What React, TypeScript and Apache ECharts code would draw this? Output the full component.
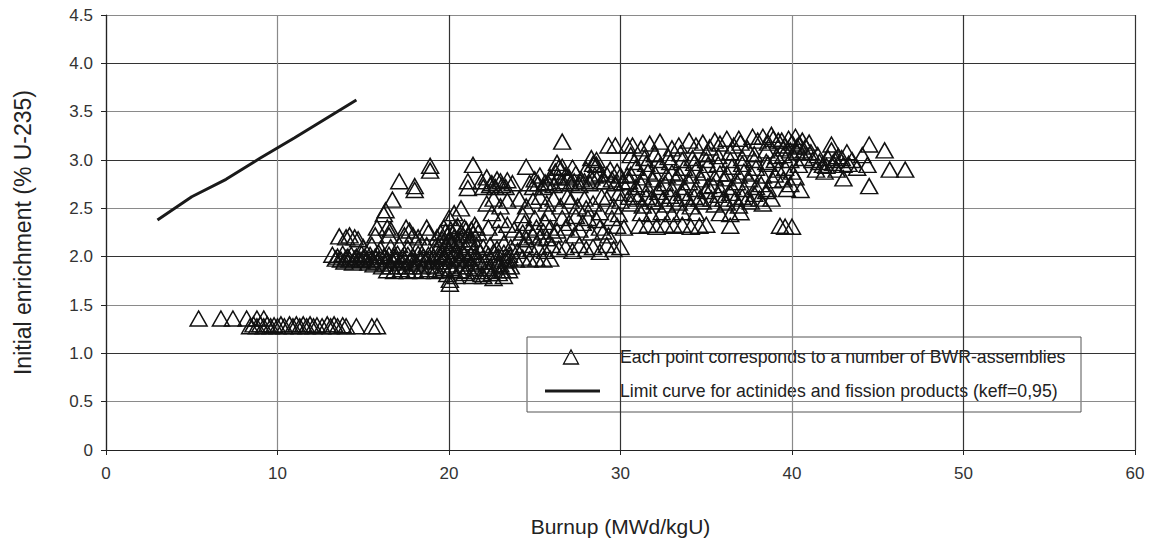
import React, { useEffect, useRef } from "react";
import * as echarts from "echarts";

const FONT = "'Liberation Sans', Arial, Helvetica, sans-serif";

const SCATTER_NAME = "Each point corresponds to a number of BWR-assemblies";
const LINE_NAME = "Limit curve for actinides and fission products (keff=0,95)";

// Limit curve (burnup MWd/kgU, enrichment %)
const limitBurnup = [3, 5, 7, 9, 11, 14.6];
const limitEnrichment = [2.38, 2.62, 2.8, 3.02, 3.23, 3.62];

// BWR assemblies, grouped by region [burnup, enrichment]
const lowRow: number[][] = [
  [5.4, 1.36], [6.7, 1.36], [7.4, 1.36], [8.2, 1.36], [8.8, 1.36], [9.2, 1.36],
  [8.4, 1.28], [8.6, 1.3], [8.8, 1.28], [9.0, 1.3], [9.2, 1.28], [9.4, 1.3], [9.6, 1.28],
  [9.8, 1.29], [10.0, 1.28], [10.2, 1.3], [10.4, 1.28], [10.7, 1.3], [10.9, 1.28],
  [11.1, 1.3], [11.3, 1.28], [11.5, 1.3], [11.7, 1.28], [11.9, 1.3], [12.1, 1.28],
  [12.3, 1.29], [12.6, 1.28], [12.9, 1.3], [13.1, 1.28], [13.3, 1.3], [13.5, 1.28],
  [13.8, 1.29], [14.0, 1.28], [14.6, 1.28], [15.5, 1.28], [15.8, 1.28],
];

const clusterB: number[][] = [
  [13.6, 2.21], [14.0, 2.2], [14.2, 2.22], [14.5, 2.2], [14.7, 2.18],
  [13.2, 2.02], [13.5, 2.0], [13.8, 2.03], [14.1, 2.0], [14.3, 2.02], [14.6, 2.0],
  [14.9, 2.03], [15.1, 2.0], [15.4, 2.02], [15.7, 2.0], [15.9, 2.04], [16.2, 2.0],
  [16.5, 2.02], [16.8, 2.0], [17.0, 2.03], [17.3, 2.0], [17.6, 2.02], [17.9, 2.0],
  [18.2, 2.03], [18.5, 2.0], [18.8, 2.02], [19.1, 2.0], [19.4, 2.03], [19.7, 2.0],
  [13.9, 1.95], [14.4, 1.94], [14.9, 1.96], [15.3, 1.94], [15.8, 1.95], [16.3, 1.93],
  [16.7, 1.96], [17.2, 1.94], [17.7, 1.95], [18.1, 1.93], [18.6, 1.95],
  [16.4, 1.86], [16.8, 1.85], [17.2, 1.87], [17.6, 1.85], [18.0, 1.86], [18.4, 1.85],
  [18.8, 1.87], [19.2, 1.85], [19.5, 1.86],
  [15.0, 2.1], [15.5, 2.12], [16.0, 2.08], [16.6, 2.1], [17.1, 2.12], [17.6, 2.09],
  [18.2, 2.1], [18.7, 2.12], [19.2, 2.1],
  [15.7, 2.22], [15.8, 2.3], [16.4, 2.3], [16.5, 2.22], [16.6, 2.28], [17.4, 2.22],
  [17.5, 2.3], [17.7, 2.27], [17.9, 2.22], [18.2, 2.2], [18.7, 2.3], [18.8, 2.25],
  [18.9, 2.94], [18.9, 2.89], [17.1, 2.78], [18.0, 2.73], [18.0, 2.69], [16.7, 2.59],
  [16.3, 2.48], [16.2, 2.44], [20.05, 1.72], [20.05, 1.76],
  [13.4, 1.98], [13.7, 1.97], [14.0, 1.99], [14.2, 1.97], [14.5, 1.98], [14.8, 1.97],
  [15.0, 1.99], [15.2, 1.97], [15.5, 1.98], [15.6, 1.92], [15.9, 1.97], [16.1, 1.9],
  [16.4, 1.98], [16.6, 1.9], [16.9, 1.97], [17.0, 1.9], [17.4, 1.97], [17.5, 1.9],
  [17.8, 1.98], [17.9, 1.9], [18.3, 1.97], [18.4, 1.9], [18.7, 1.98], [18.9, 1.91], [19.0, 1.96],
];

const clusterC: number[][] = [
  [19.3, 2.2], [19.5, 2.25], [19.7, 2.3], [19.9, 2.22], [20.1, 2.28], [20.3, 2.2],
  [20.5, 2.32], [20.7, 2.25], [20.9, 2.3], [21.1, 2.22], [21.3, 2.28], [21.5, 2.33], [21.7, 2.25],
  [19.4, 2.1], [19.6, 2.05], [19.8, 2.12], [20.0, 2.08], [20.2, 2.14], [20.4, 2.06],
  [20.6, 2.12], [20.8, 2.04], [21.0, 2.1], [21.2, 2.15], [21.4, 2.06], [21.6, 2.12], [21.8, 2.05],
  [19.2, 1.9], [19.5, 1.95], [19.7, 1.88], [20.0, 1.92], [20.3, 1.86], [20.5, 1.96],
  [20.8, 1.9], [21.0, 1.85], [21.3, 1.93], [21.5, 1.88], [21.8, 1.95],
  [19.9, 1.82], [20.4, 1.8], [20.9, 1.83], [21.4, 1.8], [21.9, 1.82],
  [20.0, 2.4], [20.7, 2.5], [21.1, 2.71], [21.1, 2.78], [21.4, 2.95], [20.3, 2.45],
  [19.6, 2.18], [19.8, 2.26], [20.0, 2.16], [20.2, 2.24], [20.4, 2.3], [20.6, 2.18],
  [20.8, 2.22], [21.0, 2.28], [21.2, 2.18], [21.4, 2.24], [21.6, 2.3],
  [19.5, 2.0], [19.7, 1.98], [19.9, 2.02], [20.1, 1.98], [20.3, 2.02], [20.5, 2.0],
  [20.7, 1.98], [20.9, 2.02], [21.1, 1.98], [21.3, 2.02], [21.5, 2.0], [21.7, 1.98],
  [20.1, 1.88], [20.6, 1.86], [21.1, 1.9], [21.6, 1.85],
];

const clusterD: number[][] = [
  [22.0, 1.8], [22.3, 1.85], [22.6, 1.78], [22.9, 1.83], [23.2, 1.8], [23.5, 1.86],
  [22.1, 1.95], [22.4, 1.9], [22.7, 1.98], [23.0, 1.92], [23.3, 1.96], [23.6, 1.9],
  [22.0, 2.1], [22.4, 2.12], [22.8, 2.08], [23.2, 2.14], [23.6, 2.1], [24.0, 2.06],
  [24.4, 2.12], [24.8, 2.08], [25.2, 2.1], [25.6, 2.06], [26.0, 2.12], [26.4, 2.08],
  [26.8, 2.1], [27.2, 2.06], [27.6, 2.12], [28.0, 2.08], [28.4, 2.1], [28.8, 2.05],
  [29.2, 2.12], [29.6, 2.08], [30.0, 2.1],
  [23.5, 1.98], [23.9, 1.97], [24.3, 1.99], [24.7, 1.97], [25.1, 1.98], [25.5, 1.97], [25.9, 1.98],
  [24.1, 2.2], [24.3, 2.25], [24.5, 2.18], [24.7, 2.28], [24.9, 2.22], [25.1, 2.3],
  [25.3, 2.2], [25.5, 2.26], [25.7, 2.19], [25.9, 2.3], [26.1, 2.23], [26.3, 2.27],
  [22.3, 2.3], [22.9, 2.25], [23.4, 2.33], [26.8, 2.3], [27.3, 2.22], [27.8, 2.35],
  [28.3, 2.25], [28.8, 2.3], [29.3, 2.22], [29.8, 2.32],
  [22.2, 2.55], [22.6, 2.6], [23.0, 2.52], [23.4, 2.58], [24.1, 2.6], [24.5, 2.52],
  [24.9, 2.58], [25.3, 2.62], [25.7, 2.55], [26.1, 2.6], [26.5, 2.52], [27.1, 2.58],
  [27.5, 2.52], [27.9, 2.6], [28.4, 2.55], [29.2, 2.6], [29.6, 2.52], [30.0, 2.58], [30.5, 2.62],
  [22.5, 2.45], [24.3, 2.43], [25.8, 2.45], [27.4, 2.42], [28.8, 2.46], [29.9, 2.44],
  [21.9, 2.78], [22.2, 2.82], [22.5, 2.76], [22.8, 2.8], [23.1, 2.74], [23.4, 2.79], [23.7, 2.76],
  [24.7, 2.76], [25.0, 2.8], [25.3, 2.84], [25.6, 2.77], [25.9, 2.82], [26.2, 2.88],
  [26.5, 2.78], [26.8, 2.84], [27.1, 2.76], [27.4, 2.86], [27.7, 2.8], [28.0, 2.9],
  [28.3, 2.82], [28.6, 2.95], [28.9, 2.78], [29.2, 2.85], [29.5, 2.8], [29.8, 2.88],
  [30.1, 2.77], [30.4, 2.84],
  [26.3, 2.97], [26.6, 2.93], [28.3, 3.02], [28.6, 3.0], [24.5, 2.93], [26.6, 3.19],
  [29.3, 3.15], [29.7, 3.15], [30.4, 3.15],
  [22.0, 2.72], [22.4, 2.74], [22.7, 2.72], [23.0, 2.78], [23.3, 2.72], [24.9, 2.72],
  [25.2, 2.76], [25.5, 2.72], [25.8, 2.76], [26.1, 2.74], [26.4, 2.82], [26.7, 2.76],
  [27.0, 2.82], [27.3, 2.78], [27.6, 2.74], [27.9, 2.78], [28.2, 2.76], [28.5, 2.84],
  [28.8, 2.86], [29.1, 2.78], [29.4, 2.9], [29.7, 2.76], [30.0, 2.84], [26.4, 2.92],
  [28.4, 2.96], [27.2, 2.92],
  [22.2, 1.88], [22.5, 1.83], [22.8, 1.92], [23.1, 1.86], [23.4, 1.9], [22.3, 2.02],
  [22.6, 2.05], [22.9, 2.0], [23.2, 2.04], [23.5, 2.02],
  [26.6, 2.4], [27.0, 2.35], [27.6, 2.28], [28.1, 2.4], [28.6, 2.38], [29.0, 2.26],
  [29.5, 2.4], [30.2, 2.3], [26.9, 2.62], [28.0, 2.5], [28.9, 2.62], [29.9, 2.66],
  [24.4, 2.35], [25.0, 2.4], [25.6, 2.36], [23.8, 2.28], [23.0, 2.38],
];

const clusterE: number[][] = [
  [30.7, 3.15], [31.2, 3.12], [31.7, 3.17], [32.3, 3.19], [34.0, 3.2], [34.4, 3.15],
  [34.8, 3.18], [35.2, 3.13], [35.8, 3.17], [36.2, 3.22], [36.6, 3.15], [37.0, 3.18],
  [37.4, 3.12], [38.0, 3.2], [38.3, 3.24], [38.6, 3.18], [38.9, 3.22], [39.2, 3.2],
  [30.6, 3.05], [31.4, 3.02], [32.0, 3.06], [32.8, 3.03], [33.5, 3.07], [34.2, 3.02],
  [35.0, 3.06], [35.7, 3.04], [36.4, 3.08], [37.1, 3.02], [37.8, 3.06], [38.5, 3.1], [39.1, 3.04],
  [30.9, 2.92], [31.6, 2.88], [32.3, 2.94], [33.0, 2.87], [33.7, 2.92], [34.4, 2.9],
  [35.1, 2.95], [35.8, 2.86], [36.5, 2.93], [37.2, 2.88], [37.9, 2.92], [38.6, 2.96], [39.2, 2.9],
  [30.5, 2.78], [31.2, 2.75], [31.9, 2.8], [32.6, 2.76], [33.3, 2.82], [34.0, 2.77],
  [34.7, 2.8], [35.4, 2.74], [36.1, 2.81], [36.8, 2.77], [37.5, 2.8], [38.2, 2.75], [38.9, 2.79],
  [30.8, 2.65], [31.5, 2.62], [32.2, 2.67], [32.9, 2.63], [33.6, 2.66], [34.3, 2.62],
  [35.0, 2.68], [35.7, 2.64], [36.4, 2.66], [37.1, 2.62], [37.8, 2.65], [38.5, 2.68],
  [30.6, 2.55], [31.3, 2.53], [32.0, 2.57], [32.7, 2.54], [33.4, 2.56], [34.1, 2.52],
  [34.8, 2.57], [35.5, 2.54], [36.2, 2.56], [36.9, 2.53], [37.6, 2.57], [38.3, 2.55], [38.8, 2.6],
  [31.2, 2.45], [31.8, 2.44], [32.4, 2.46], [33.0, 2.44], [33.6, 2.46], [34.4, 2.45],
  [35.8, 2.45], [36.4, 2.44], [37.0, 2.46],
  [31.1, 2.32], [31.6, 2.33], [32.1, 2.31], [32.6, 2.33], [33.1, 2.32], [33.6, 2.33],
  [34.1, 2.31], [34.6, 2.32], [35.0, 2.33], [36.4, 2.32], [39.3, 2.32], [39.6, 2.31], [40.0, 2.31],
  [30.8, 2.98], [31.5, 2.96], [32.2, 3.0], [32.9, 2.98], [33.6, 3.0], [34.3, 2.97],
  [35.0, 3.0], [35.7, 2.96], [36.4, 3.0], [37.1, 2.96], [37.8, 3.0], [38.5, 2.98], [39.0, 3.0],
  [30.6, 2.85], [31.3, 2.82], [32.0, 2.86], [32.7, 2.84], [33.4, 2.86], [34.1, 2.84],
  [34.8, 2.87], [35.5, 2.82], [36.2, 2.86], [36.9, 2.84], [37.6, 2.86], [38.3, 2.84], [39.0, 2.85],
  [30.9, 2.72], [31.6, 2.7], [32.3, 2.72], [33.0, 2.7], [33.7, 2.72], [34.4, 2.7],
  [35.1, 2.73], [35.8, 2.7], [36.5, 2.72], [37.2, 2.7], [37.9, 2.72], [38.6, 2.7],
  [31.0, 2.6], [31.8, 2.6], [32.5, 2.6], [33.2, 2.6], [33.9, 2.6], [34.6, 2.6],
  [35.3, 2.6], [36.0, 2.6], [36.7, 2.6], [37.4, 2.6], [38.1, 2.6],
  [33.0, 3.12], [33.4, 3.15], [35.5, 3.2], [36.9, 3.22], [37.7, 3.24], [38.8, 3.26],
];

const clusterF: number[][] = [
  [39.4, 3.2], [39.6, 3.15], [39.8, 3.22], [40.0, 3.18], [40.2, 3.24], [40.4, 3.16],
  [40.6, 3.2], [40.8, 3.14], [41.0, 3.18],
  [39.5, 3.05], [39.9, 3.0], [40.3, 3.08], [40.7, 3.02], [39.6, 2.92], [40.0, 2.88],
  [40.4, 2.95], [39.5, 2.8], [39.9, 2.75],
  [41.2, 3.0], [41.5, 3.05], [41.8, 2.95], [42.1, 3.02], [42.4, 2.97], [42.7, 3.04],
  [43.0, 2.95], [41.4, 2.9], [41.9, 2.88], [42.3, 3.1], [42.6, 2.9], [43.2, 3.08],
  [43.5, 3.0], [43.8, 2.92], [44.1, 3.05], [44.4, 2.95], [42.3, 3.16], [44.5, 3.16],
  [45.4, 3.1], [45.7, 2.9], [46.6, 2.9], [44.5, 2.73], [43.0, 2.81], [40.5, 2.69],
  [39.5, 3.12], [39.9, 3.1], [40.3, 3.14], [40.7, 3.1], [41.1, 3.08], [41.6, 2.98],
  [42.0, 2.94], [42.5, 3.0], [42.9, 3.02], [43.3, 2.96], [40.2, 2.82], [39.7, 2.7],
];

const assemblies = [...lowRow, ...clusterB, ...clusterC, ...clusterD, ...clusterE, ...clusterF];

const xSplitColors = ["#333", "#8a8a8a", "#333", "#333", "#8a8a8a", "#333", "#333"];
const ySplitColors = ["#333", "#8a8a8a"];

// legend box placement (pixels)
const LG = { x: 527, y: 337, w: 554, h: 75, row1: 357, row2: 391, iconX: 545, iconW: 55, textX: 620 };

export default function App() {
  const ref = useRef<HTMLDivElement>(null);
  useEffect(() => {
    document.body.style.margin = "0";
    const chart = echarts.init(ref.current!, null, { renderer: "svg" });
    const triCx = LG.iconX + 26;
    chart.setOption({
      animation: false,
      backgroundColor: "#fff",
      textStyle: { fontFamily: FONT },
      grid: { left: 106, right: 15, top: 15, bottom: 94, containLabel: false },
      xAxis: {
        type: "value",
        min: 0,
        max: 60,
        interval: 10,
        name: "Burnup (MWd/kgU)",
        nameLocation: "middle",
        nameGap: 66,
        nameTextStyle: { fontSize: 21, color: "#222", fontFamily: FONT },
        axisLine: { show: true, lineStyle: { color: "#222", width: 1.2 } },
        axisTick: { show: true, length: 5, lineStyle: { color: "#222" } },
        axisLabel: { fontSize: 17, color: "#333", margin: 15, fontFamily: FONT },
        splitLine: { show: true, lineStyle: { color: xSplitColors, width: 1.2 } },
      },
      yAxis: {
        type: "value",
        min: 0,
        max: 4.5,
        interval: 0.5,
        name: "Initial enrichment (% U-235)",
        nameLocation: "middle",
        nameGap: 72,
        nameTextStyle: { fontSize: 23, color: "#222", fontFamily: FONT },
        axisLine: { show: true, lineStyle: { color: "#222", width: 1.2 } },
        axisTick: { show: true, length: 5, lineStyle: { color: "#222" } },
        axisLabel: {
          fontSize: 17,
          color: "#333",
          margin: 13,
          fontFamily: FONT,
          formatter: (v: number) => (v === 0 ? "0" : v.toFixed(1)),
        },
        splitLine: { show: true, lineStyle: { color: ySplitColors, width: 1.2 } },
      },
      graphic: [
        {
          type: "group",
          z: 100,
          children: [
            {
              type: "rect",
              shape: { x: LG.x, y: LG.y, width: LG.w, height: LG.h },
              style: { fill: "#fff", stroke: "#555", lineWidth: 1 },
            },
            {
              type: "polygon",
              shape: { points: [[triCx - 7.5, LG.row1 + 7], [triCx, LG.row1 - 7], [triCx + 7.5, LG.row1 + 7]] },
              style: { fill: "none", stroke: "#111", lineWidth: 1.3 },
            },
            {
              type: "line",
              shape: { x1: LG.iconX, y1: LG.row2, x2: LG.iconX + LG.iconW, y2: LG.row2 },
              style: { stroke: "#1a1a1a", lineWidth: 3 },
            },
            {
              type: "text",
              x: LG.textX,
              y: LG.row1,
              style: { text: SCATTER_NAME, fontSize: 17.7, fontFamily: FONT, fill: "#222", verticalAlign: "middle", align: "left" },
            },
            {
              type: "text",
              x: LG.textX,
              y: LG.row2,
              style: { text: LINE_NAME, fontSize: 17.7, fontFamily: FONT, fill: "#222", verticalAlign: "middle", align: "left" },
            },
          ],
        },
      ],
      series: [
        {
          name: SCATTER_NAME,
          type: "scatter",
          symbol: "triangle",
          symbolSize: [17, 15],
          data: assemblies,
          itemStyle: { color: "rgba(0,0,0,0)", borderColor: "#111", borderWidth: 1.5, opacity: 1 },
          z: 2,
        },
        {
          name: LINE_NAME,
          type: "line",
          data: limitBurnup.map((b, i) => [b, limitEnrichment[i]]),
          symbol: "none",
          lineStyle: { color: "#1a1a1a", width: 3 },
          itemStyle: { color: "#1a1a1a" },
          z: 3,
        },
      ],
    });
    return () => chart.dispose();
  }, []);
  return <div ref={ref} style={{ width: 1150, height: 544 }} />;
}
